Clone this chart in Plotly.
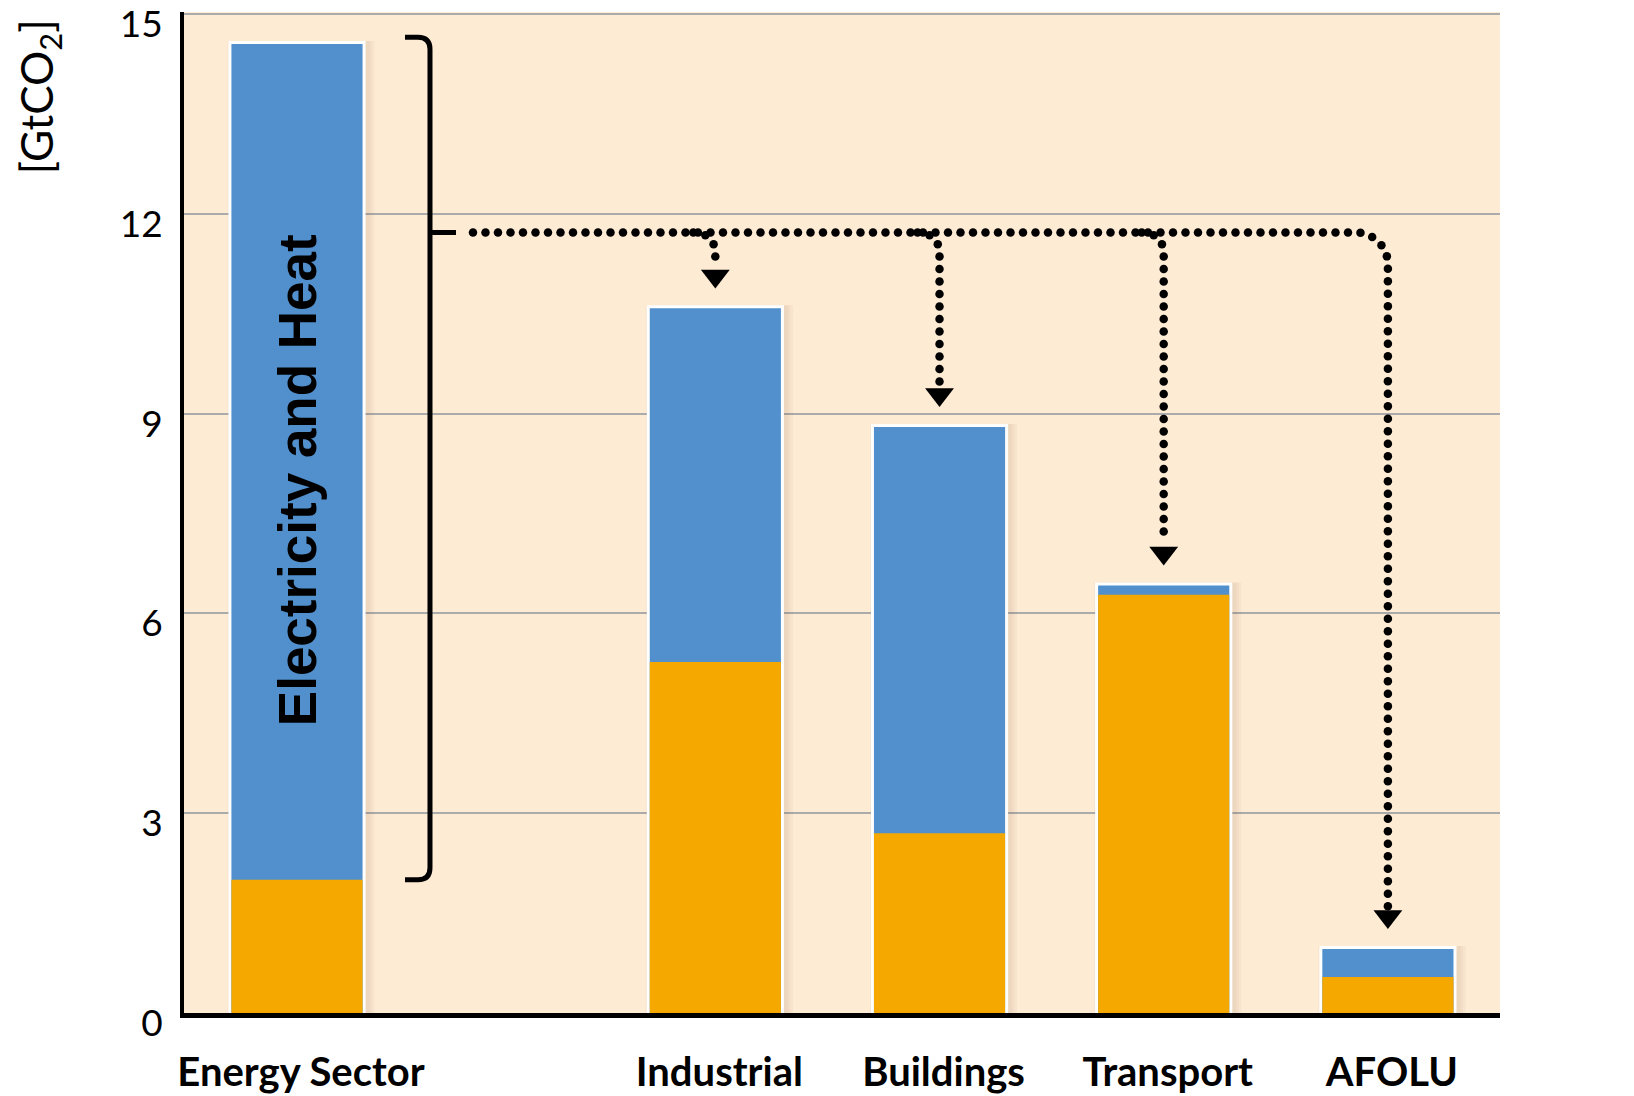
import numpy as np
import plotly.graph_objects as go

# --- data (GtCO2) ---
sectors = ["Energy Sector", "Industrial", "Buildings", "Transport", "AFOLU"]
direct = [2.0, 5.27, 2.70, 6.28, 0.54]
total = [14.55, 10.58, 8.80, 6.42, 0.96]
y_ticks = [0, 3, 6, 9, 12, 15]
y_title = "[GtCO<sub>2</sub>]"
bar_note = "Electricity and Heat"

# --- layout constants (body margin removed in post_script) ---
W, H = 1634, 1096
MARGIN = dict(l=184, r=134, t=12, b=83)
X_RANGE = [0.63, 6.5]
Y_RANGE = [0, 15.03]
bar_pos = [1.134, 3, 4, 5, 6]
BAR_W = 0.585

BLUE = "#5190cd"
ORANGE = "#f5a800"
BEIGE = "#fdebd4"
SANS = "Lato, Open Sans"

kx = (W - MARGIN["l"] - MARGIN["r"]) / (X_RANGE[1] - X_RANGE[0])
ky = (H - MARGIN["t"] - MARGIN["b"]) / (Y_RANGE[1] - Y_RANGE[0])


def dx(px):
    return px / kx


def dy(px):
    return px / ky


fig = go.Figure()

# soft shadow, white outline, blue total, orange direct part
for k, a in enumerate([0.035, 0.035, 0.04]):
    grow = 16 - 5 * k
    fig.add_trace(go.Bar(x=[p + dx(4) for p in bar_pos], y=[t + dy(3) for t in total],
                         width=BAR_W + dx(grow), hoverinfo="skip",
                         marker=dict(color=f"rgba(110,70,20,{a})", line=dict(width=0))))
fig.add_trace(go.Bar(x=bar_pos, y=[t + dy(3) for t in total], width=BAR_W + dx(6),
                     marker=dict(color="white", line=dict(width=0)), hoverinfo="skip"))
fig.add_trace(go.Bar(x=bar_pos, y=total, width=BAR_W, name="Indirect",
                     marker=dict(color=BLUE, line=dict(width=0))))
fig.add_trace(go.Bar(x=bar_pos, y=direct, width=BAR_W, name="Direct",
                     marker=dict(color=ORANGE, line=dict(width=0))))

# bracket next to the energy bar
bx = bar_pos[0] + dx(133)
hook = bx - dx(25)
rx, ry = dx(12), dy(12)
top, bot = total[0] + 0.1, direct[0]
y_line = 11.72
brace = (f"M {hook},{top} L {bx - rx},{top} Q {bx},{top} {bx},{top - ry} "
         f"L {bx},{bot + ry} Q {bx},{bot} {bx - rx},{bot} L {hook},{bot} "
         f"M {bx},{y_line} L {bx + dx(26)},{y_line}")
fig.add_shape(type="path", path=brace, xref="x", yref="y",
              line=dict(color="black", width=5))


# dotted redistribution arrows (built in pixel space, resampled evenly)
def arc_path(x0, x_end, yl, y_stop, r):
    X0, XE, YL, YS = x0 * kx, x_end * kx, yl * ky, y_stop * ky
    pts = [(X0, YL), (XE - r, YL)]
    cx, cy = XE - r, YL - r
    for a in np.linspace(np.pi / 2, 0, 20)[1:]:
        pts.append((cx + r * np.cos(a), cy + r * np.sin(a)))
    pts.append((XE, YS))
    pts = np.array(pts)
    seg = np.hypot(np.diff(pts[:, 0]), np.diff(pts[:, 1]))
    cum = np.concatenate([[0], np.cumsum(seg)])
    s = np.arange(0, cum[-1], 12.5)
    return np.interp(s, cum, pts[:, 0]) / kx, np.interp(s, cum, pts[:, 1]) / ky


dots_x, dots_y = [], []
tips_x, tips_y = [], []
start = bx + dx(43)
for i in range(1, len(sectors)):
    tip = total[i] + 0.3
    arrow_top = tip + dy(22)
    if i == len(sectors) - 1:
        px_, py_ = arc_path(start, bar_pos[i], y_line, arrow_top, 32)
    else:
        px_, py_ = arc_path(bar_pos[i] - dx(22), bar_pos[i], y_line, arrow_top, 20)
    dots_x += list(px_)
    dots_y += list(py_)
    tips_x.append(bar_pos[i])
    tips_y.append(tip + dy(12.5))

fig.add_trace(go.Scatter(x=dots_x, y=dots_y, mode="markers", hoverinfo="skip",
                         marker=dict(color="black", size=8.5)))
fig.add_trace(go.Scatter(x=tips_x, y=tips_y, mode="markers", hoverinfo="skip",
                         marker=dict(color="black", size=25, symbol="triangle-down")))

fig.add_annotation(x=bar_pos[0], y=8.0, text=bar_note, textangle=-90, showarrow=False,
                   xanchor="center", yanchor="middle",
                   font=dict(family="Liberation Sans, Arial", size=53, color="black",
                             weight="bold"))
fig.add_annotation(x=-0.110, y=0.915, xref="paper", yref="paper", text=y_title,
                   textangle=-90, showarrow=False, xanchor="center", yanchor="middle",
                   font=dict(family=SANS, size=44, color="black"))

fig.update_layout(
    width=W, height=H, margin=MARGIN, barmode="overlay", showlegend=False,
    plot_bgcolor=BEIGE, paper_bgcolor="white",
    xaxis=dict(range=X_RANGE, tickvals=bar_pos, ticktext=sectors, showgrid=False,
               zeroline=False, showline=True, linecolor="black", linewidth=5,
               ticks="", ticklabelstandoff=20, ticklabelshift=4, automargin=False,
               ticklabeloverflow="allow",
               tickfont=dict(family=SANS, size=40, color="black", weight="bold")),
    yaxis=dict(range=Y_RANGE, tickvals=y_ticks, showgrid=True, gridcolor="#ababab",
               gridwidth=2, zeroline=False, showline=True, linecolor="black",
               linewidth=4, ticks="", ticklabelshift=10, ticklabelstandoff=10,
               ticklabeloverflow="allow", automargin=False,
               tickfont=dict(family=SANS, size=37, color="black")),
)

fig.write_html("out.html", config={"displayModeBar": False},
               post_script="document.body.style.margin='0';"
                           "document.body.style.overflow='hidden';")
